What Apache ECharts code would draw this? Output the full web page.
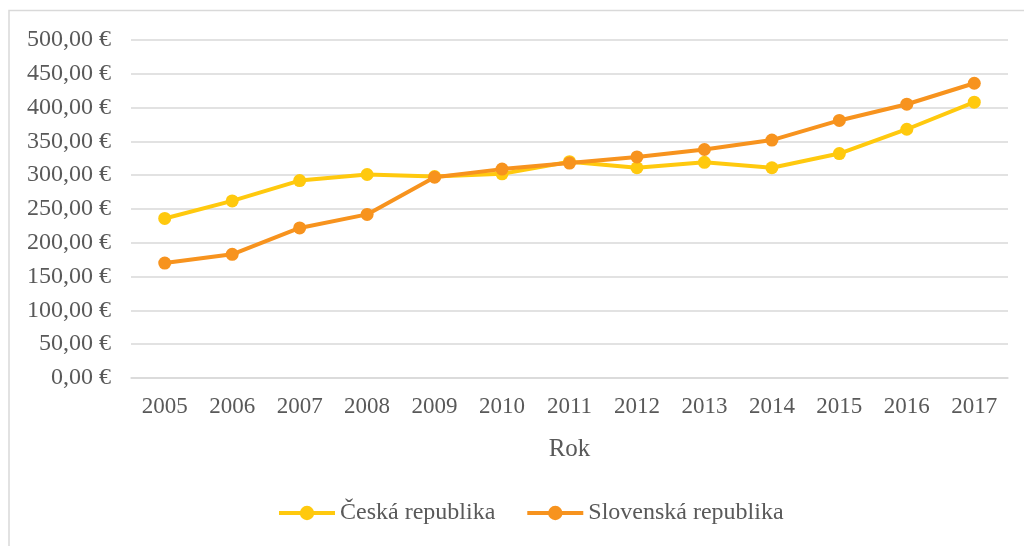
<!DOCTYPE html>
<html>
<head>
<meta charset="utf-8">
<script src="https://cdn.jsdelivr.net/npm/echarts@6/dist/echarts.min.js"></script>
<style>
  html, body { margin: 0; padding: 0; background: #fff; }
  #chart { width: 1024px; height: 546px; }
</style>
</head>
<body>
<div id="chart"></div>
<script>
// roky a hodnoty
const years = ['2005', '2006', '2007', '2008', '2009', '2010', '2011', '2012', '2013', '2014', '2015', '2016', '2017']
const czValues = [236, 262, 292, 301, 298, 302, 320, 311, 319, 311, 332, 368, 408]
const skValues = [170, 183, 222, 242, 297, 309, 318, 327, 338, 352, 381, 405, 436]
const yTicks = [0, 50, 100, 150, 200, 250, 300, 350, 400, 450, 500]

const textColor = '#595959'
const font = 'Liberation Serif'

const chart = echarts.init(document.getElementById('chart'))
const option = {
  color: ['#FFC90E', '#F7931E'],
  textStyle: { fontFamily: font },
  graphic: [
    {
      // rámeček grafu
      type: 'rect',
      shape: { x: 9, y: 10.5, width: 1040, height: 560 },
      style: { fill: 'none', stroke: '#D9D9D9', lineWidth: 1.5 },
      silent: true,
    },
  ],
  grid: {
    left: 131,
    right: 16,
    top: 40,
    bottom: 168,
  },
  xAxis: {
    type: 'category',
    data: years,
    boundaryGap: true,
    name: 'Rok',
    nameLocation: 'middle',
    nameGap: 59,
    nameTextStyle: { color: textColor, fontSize: 25, fontFamily: font },
    axisLine: { lineStyle: { color: '#D9D9D9', width: 1.5 } },
    axisTick: { show: false },
    axisLabel: { color: textColor, fontSize: 23, fontFamily: font, margin: 17 },
  },
  yAxis: {
    type: 'value',
    min: yTicks[0],
    max: yTicks[yTicks.length - 1],
    interval: 50,
    axisLine: { show: false },
    axisTick: { show: false },
    splitLine: { lineStyle: { color: '#D9D9D9', width: 1.5 } },
    axisLabel: {
      color: textColor,
      fontSize: 24,
      fontFamily: font,
      margin: 20,
      formatter: (v) => v.toFixed(2).replace('.', ',') + ' €',
    },
  },
  legend: {
    bottom: 16,
    left: 272,
    itemWidth: 56,
    itemHeight: 18,
    itemGap: 30,
    lineStyle: { width: 4 },
    textStyle: { color: textColor, fontSize: 24, fontFamily: font },
    data: ['Česká republika', 'Slovenská republika'],
  },
  series: [
    {
      name: 'Česká republika',
      type: 'line',
      data: czValues,
      symbol: 'circle',
      symbolSize: 13,
      lineStyle: { width: 4 },
      z: 2,
    },
    {
      name: 'Slovenská republika',
      type: 'line',
      data: skValues,
      symbol: 'circle',
      symbolSize: 13,
      lineStyle: { width: 4 },
      z: 3,
    },
  ],
  animation: false,
}
chart.setOption(option)
</script>
</body>
</html>
